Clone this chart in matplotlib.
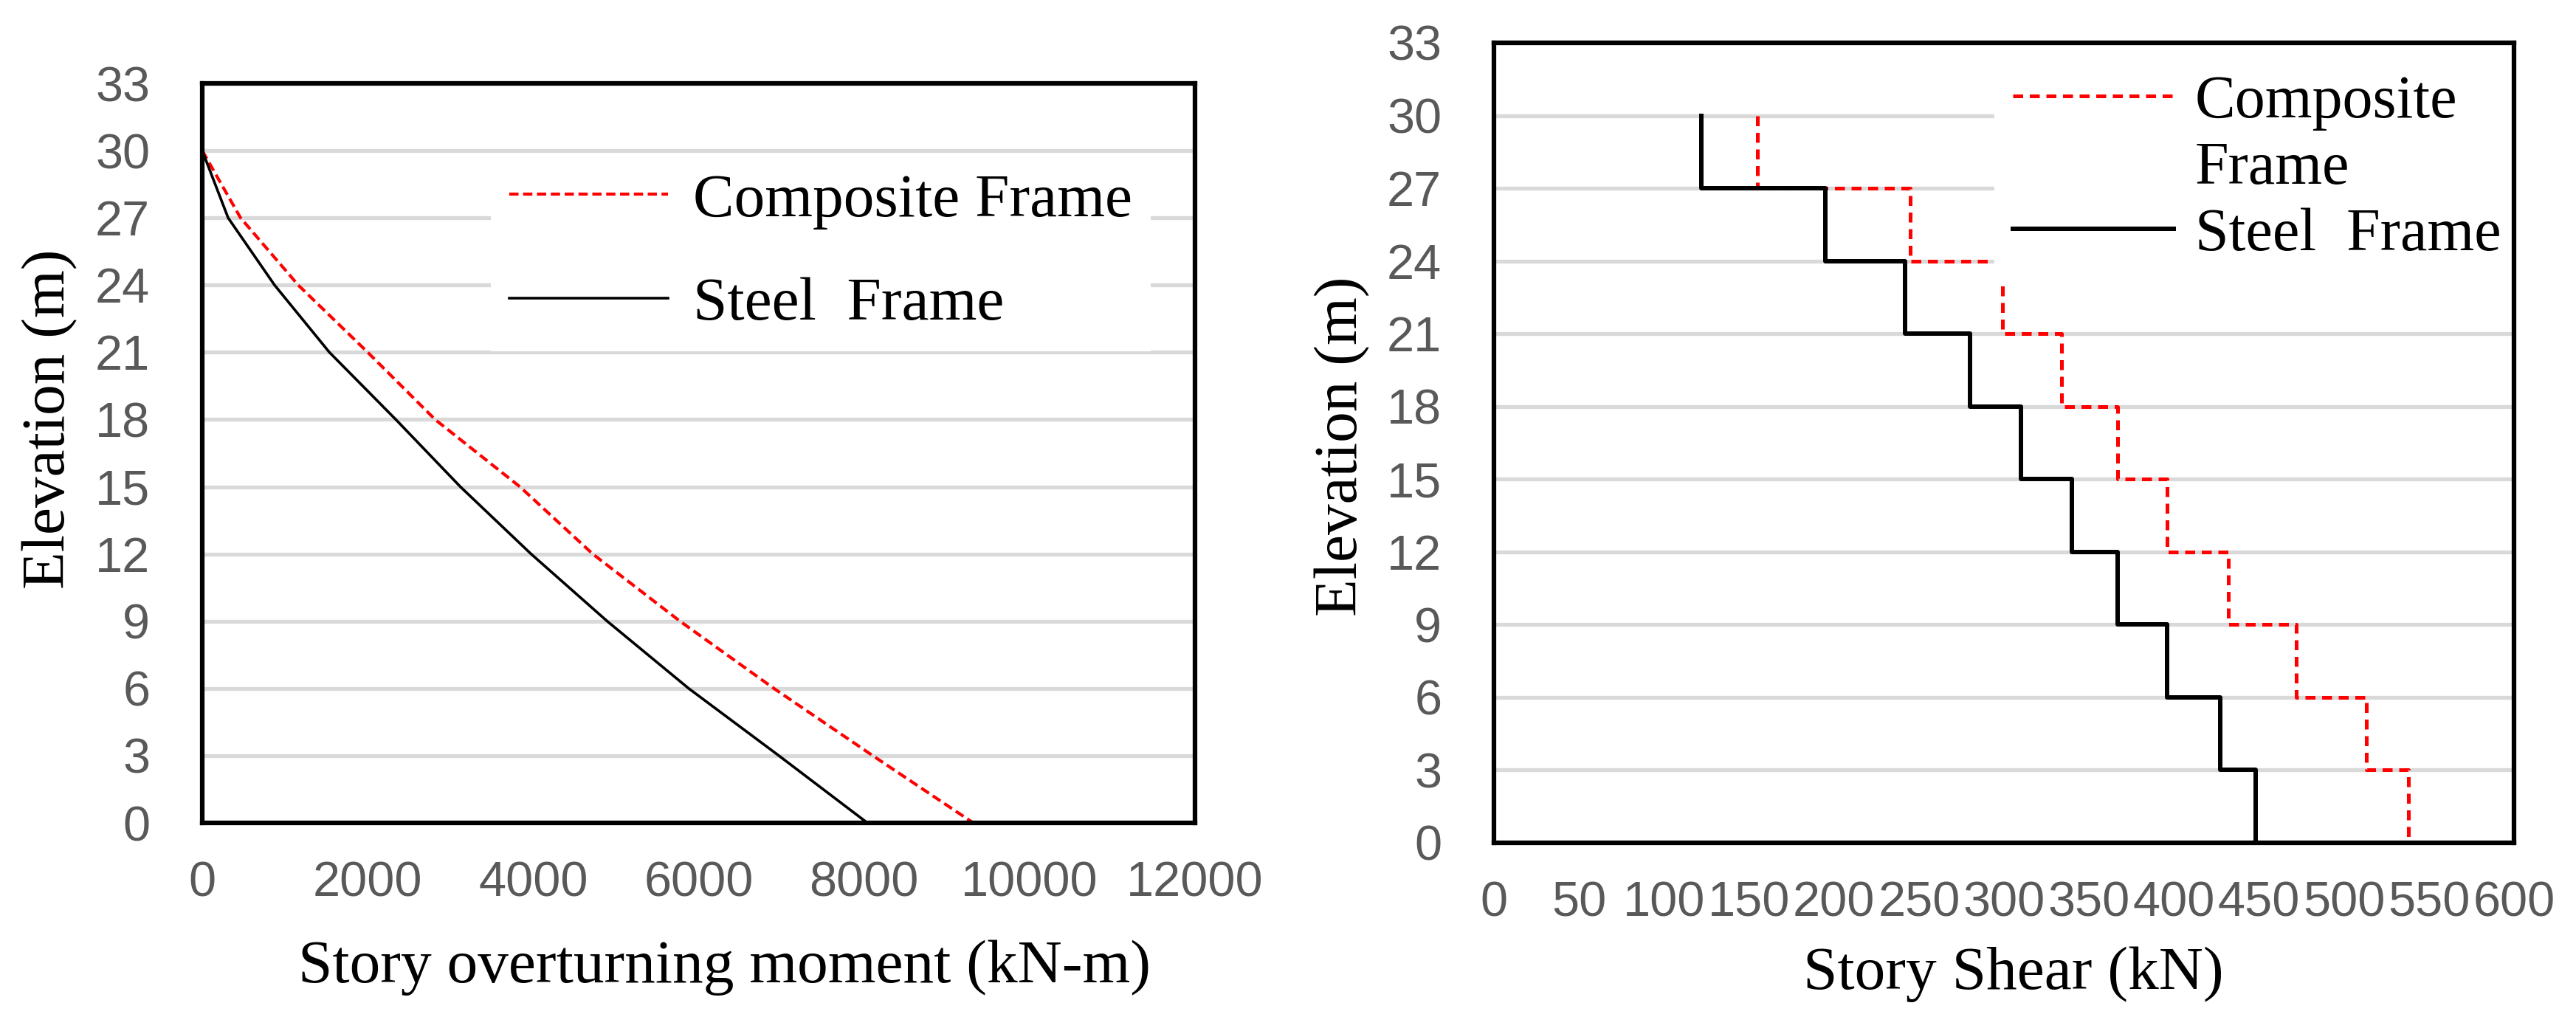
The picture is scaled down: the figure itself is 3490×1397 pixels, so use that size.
import numpy as np
import matplotlib
matplotlib.use("Agg")
import matplotlib.pyplot as plt
from matplotlib.lines import Line2D

# ---------------- data ----------------
elevation = [30, 27, 24, 21, 18, 15, 12, 9, 6, 3, 0]
moment_composite = [0, 463, 1160, 2000, 2815, 3840, 4720, 5775, 6910, 8105, 9320]
moment_steel = [0, 313, 874, 1537, 2340, 3120, 3975, 4895, 5880, 6970, 8040]

story_top = [30, 27, 24, 21, 18, 15, 12, 9, 6, 3]
story_height = 3
shear_composite = [155, 245, 299, 334, 367, 396, 432, 472, 513, 538]
shear_steel = [122, 195, 242, 280, 310, 340, 367, 396, 427, 448]

y_ticks = list(range(0, 34, 3))
moment_ticks = list(range(0, 12001, 2000))
shear_ticks = list(range(0, 601, 50))

legend_labels_left = ["Composite Frame", "Steel  Frame"]
legend_labels_right = ["Composite", "Frame", "Steel  Frame"]

# ---------------- style ----------------
W, H = 3491, 1397
fig = plt.figure(figsize=(W / 100, H / 100), dpi=100)

SERIF = ["Liberation Serif", "DejaVu Serif"]
SANS = ["Liberation Sans", "DejaVu Sans"]
TICK_COLOR = "#595959"
GRID_COLOR = "#d9d9d9"
RED = "#ff0000"


def style_axes(ax):
    ax.set_ylim(0, 33)
    ax.set_yticks(y_ticks)
    ax.yaxis.grid(True, color=GRID_COLOR, linewidth=3.8, zorder=0)
    ax.xaxis.grid(False)
    ax.set_axisbelow(True)
    for s in ax.spines.values():
        s.set_linewidth(4.5)
        s.set_color("black")
        s.set_zorder(6)
    ax.tick_params(axis="both", length=0, labelsize=48, labelcolor=TICK_COLOR)
    ax.tick_params(axis="y", pad=51)
    ax.tick_params(axis="x", pad=37)
    for lab in ax.get_xticklabels() + ax.get_yticklabels():
        lab.set_family(SANS)


# ---------------- left chart ----------------
axL = fig.add_axes([274 / W, 1 - 1115 / H, (1619 - 274) / W, (1115 - 113) / H])
axL.set_xlim(0, 12000)
axL.set_xticks(moment_ticks)
lc, = axL.plot(moment_composite, elevation, color=RED, linewidth=3.0,
               linestyle=(0, (3.0, 1.5)), zorder=3)
ls, = axL.plot(moment_steel, elevation, color="black", linewidth=2.6, zorder=3)
style_axes(axL)
axL.set_xlabel("Story overturning moment (kN-m)", family=SERIF, fontsize=60)
axL.xaxis.set_label_coords(0.526, -0.158)
axL.set_ylabel("Elevation (m)", family=SERIF, fontsize=60)
axL.yaxis.set_label_coords(-0.125, 0.546)

legL = axL.legend([lc, ls], legend_labels_left, loc="upper left",
                  bbox_to_anchor=(0.291, 0.904), borderaxespad=0,
                  prop={"family": SERIF, "size": 60}, frameon=True,
                  fancybox=False, framealpha=1, facecolor="white",
                  edgecolor="none", handlelength=2.57, handletextpad=0.41,
                  labelspacing=0.77, borderpad=0.3)
legL.set_zorder(5)

# ---------------- right chart ----------------
axR = fig.add_axes([2024 / W, 1 - 1142 / H, (3406 - 2024) / W, (1142 - 58) / H])
axR.set_xlim(0, 600)
axR.set_xticks(shear_ticks)

top = np.array(story_top)
y_step = np.column_stack([top, top - story_height]).ravel()
rc, = axR.plot(np.repeat(shear_composite, 2), y_step, color=RED, linewidth=3.6,
               linestyle=(0, (2.7, 1.8)), zorder=3)
rs, = axR.plot(np.repeat(shear_steel, 2), y_step, color="black", linewidth=4.3,
               zorder=3)
style_axes(axR)
axR.set_xlabel("Story Shear (kN)", family=SERIF, fontsize=60)
axR.xaxis.set_label_coords(0.509, -0.13)
axR.set_ylabel("Elevation (m)", family=SERIF, fontsize=60)
axR.yaxis.set_label_coords(-0.121, 0.496)

blank = Line2D([], [], color="none")
legR = axR.legend([rc, blank, rs], legend_labels_right, loc="upper left",
                  bbox_to_anchor=(0.4906, 0.983), borderaxespad=0,
                  prop={"family": SERIF, "size": 59}, frameon=True,
                  fancybox=False, framealpha=1, facecolor="white",
                  edgecolor="none", handlelength=2.67, handletextpad=0.35,
                  labelspacing=0.18, borderpad=0.3)
legR.set_zorder(5)

fig.savefig("out.png", dpi=100, facecolor="white")
